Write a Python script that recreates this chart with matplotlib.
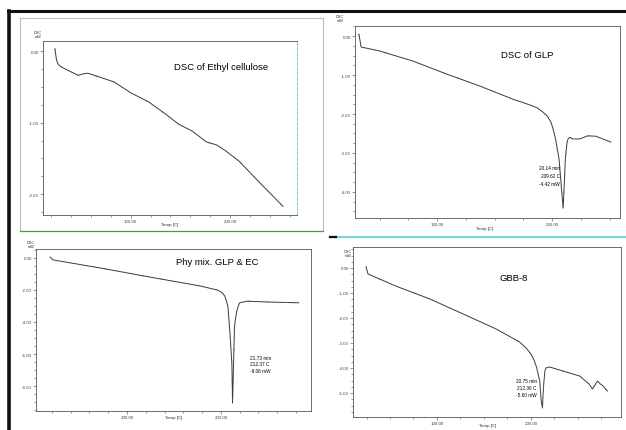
import matplotlib
matplotlib.use("Agg")
import matplotlib.pyplot as plt
from matplotlib.ticker import MultipleLocator, FormatStrFormatter

plt.rcParams['font.family'] = ['Liberation Sans', 'DejaVu Sans']
plt.rcParams['axes.unicode_minus'] = False

W, H = 626, 431

# Ethyl cellulose
ec_temp = [24, 25.5, 27, 29, 34, 47.5, 52, 57, 68, 83, 101, 118, 135, 148, 162, 176, 186,
           196, 209, 229, 253]
ec_dsc = [0.03, -0.12, -0.18, -0.21, -0.25, -0.34, -0.32, -0.31, -0.36, -0.43, -0.59, -0.71,
          -0.88, -1.02, -1.12, -1.27, -1.31, -1.40, -1.54, -1.83, -2.17]

# GLP
glp_temp = [32, 33, 34, 50, 79, 108, 137, 166, 181, 187, 192, 196, 199, 201, 203, 206, 208,
            209.6, 210.5, 211.5, 213, 214, 215.5, 218, 224, 231, 238, 251]
glp_dsc = [0.05, -0.1, -0.28, -0.38, -0.64, -0.97, -1.28, -1.62, -1.77, -1.84, -1.95, -2.06,
           -2.21, -2.4, -2.64, -3.15, -3.85, -4.42, -3.85, -3.15, -2.72, -2.63, -2.6, -2.64,
           -2.64, -2.56, -2.57, -2.72]

# Physical mixture GLP & EC
mix_temp = [18, 21, 71, 124, 178, 196, 200, 202, 204, 206, 207.5, 209.5, 211.7, 212.4, 213.5,
            214.5, 215.5, 217, 218.5, 220, 228, 249, 283]
mix_dsc = [0.06, -0.12, -0.62, -1.19, -1.75, -2.0, -2.12, -2.22, -2.37, -2.7, -3.06, -4.56,
           -6.6, -9.06, -6.6, -4.3, -3.8, -3.3, -3.0, -2.8, -2.7, -2.75, -2.8]

# GBB-8
gbb_temp = [24.5, 26.6, 56, 92.5, 128, 163, 188, 195, 200, 203, 206, 209.5, 211, 212.4, 213,
            214, 215, 216, 220, 234, 252, 262, 265.6, 271, 274, 277, 281.5]
gbb_dsc = [0.05, -0.24, -0.72, -1.24, -1.84, -2.44, -2.96, -3.2, -3.44, -3.65, -3.96, -4.52,
           -5.32, -5.6, -5.04, -4.5, -4.12, -4.0, -3.96, -4.12, -4.32, -4.64, -4.84, -4.52,
           -4.64, -4.72, -4.92]

fig = plt.figure(figsize=(W / 100, H / 100), dpi=100)
fig.patch.set_facecolor('white')

# background layer in pixel coordinates for frames and small labels
bg = fig.add_axes([0, 0, 1, 1])
bg.set_xlim(0, W)
bg.set_ylim(H, 0)
bg.axis('off')
bg.plot([8, W], [12, 12], color='#111111', lw=2.2)
bg.plot([9, 9], [12, H], color='#111111', lw=2.6)
bg.plot([20, 323, 323], [19, 19, 232], color='#bbbbbb', lw=0.8)
bg.plot([20, 20], [19, 232], color='#bbbbbb', lw=0.8)
bg.plot([20, 323], [232, 232], color='#4a9a4a', lw=0.9)
bg.plot([330, W], [238, 238], color='#7fd8d8', lw=1.6)
bg.plot([330, 336], [238, 238], color='#111111', lw=1.6)


def px_axes(x0, y0, x1, y1):
    return fig.add_axes([x0 / W, 1 - y1 / H, (x1 - x0) / W, (y1 - y0) / H])


def style(ax, xlim, ylim, ystep, xminor, yminor):
    ax.set_xlim(*xlim)
    ax.set_ylim(*ylim)
    ax.xaxis.set_major_locator(MultipleLocator(100))
    ax.xaxis.set_minor_locator(MultipleLocator(xminor))
    ax.yaxis.set_major_locator(MultipleLocator(ystep))
    ax.yaxis.set_minor_locator(MultipleLocator(yminor))
    ax.xaxis.set_major_formatter(FormatStrFormatter('%.2f'))
    ax.yaxis.set_major_formatter(FormatStrFormatter('%.2f'))
    ax.tick_params(which='both', labelsize=3.2, pad=0.8, width=0.4, colors='#444444')
    ax.tick_params(which='major', length=2)
    ax.tick_params(which='minor', length=1.2)
    for s in ax.spines.values():
        s.set_linewidth(0.6)
        s.set_color('#555555')


def curve(ax, t, d):
    ax.plot(t, d, color='#3a3a3a', lw=0.7)
    ax.plot(t, d, color='#e03030', lw=0.7, dashes=(1.5, 18))


# panel 1
ax1 = px_axes(43, 42, 297, 216)
curve(ax1, ec_temp, ec_dsc)
style(ax1, (12, 267), (-2.29, 0.14), 1, 20, 0.25)
ax1.spines['right'].set_color('#55d0d0')
ax1.spines['right'].set_linestyle((0, (4, 2)))
ax1.text(0.70, 0.856, 'DSC of Ethyl cellulose', transform=ax1.transAxes,
         ha='center', va='center', fontsize=6.8)

# panel 2
ax2 = px_axes(355, 27, 620, 219)
curve(ax2, glp_temp, glp_dsc)
style(ax2, (28.7, 259), (-4.67, 0.26), 1, 25, 0.25)
ax2.text(0.65, 0.854, 'DSC of GLP', transform=ax2.transAxes,
         ha='center', va='center', fontsize=6.8)
for yy, s in zip([-3.38, -3.59, -3.79], ['20.14 min', '209.62 C', '-4.42 mW']):
    ax2.text(207, yy, s, ha='right', va='center', fontsize=3.4)

# panel 3
ax3 = px_axes(36, 250, 311, 412)
curve(ax3, mix_temp, mix_dsc)
style(ax3, (3, 296), (-9.56, 0.56), 2, 20, 0.5)
ax3.text(0.66, 0.92, 'Phy mix. GLP & EC', transform=ax3.transAxes,
         ha='center', va='center', fontsize=6.8)
for yy, s in zip([-6.19, -6.6, -7.0], ['21.73 min', '212.37 C', '-9.06 mW']):
    ax3.text(231, yy, s, ha='left', va='center', fontsize=3.4)

# panel 4
ax4 = px_axes(353, 248, 621, 418)
curve(ax4, gbb_temp, gbb_dsc)
style(ax4, (10.6, 296), (-5.96, 0.84), 1, 25, 0.25)
ax4.text(0.60, 0.82, 'GBB-8', transform=ax4.transAxes,
         ha='center', va='center', fontsize=6.8)
for yy, s in zip([-4.52, -4.8, -5.08], ['20.75 min', '212.36 C', '-5.60 mW']):
    ax4.text(206.4, yy, s, ha='right', va='center', fontsize=3.4)

# small axis captions
for x, y in [(38, 35), (340, 19), (31, 245), (348, 254)]:
    bg.text(x, y, 'DSC\nmW', ha='center', va='center', fontsize=2.8,
            linespacing=1.0, color='#333333')
for x, y in [(170, 225), (485, 229), (174, 418), (488, 426)]:
    bg.text(x, y, 'Temp [C]', ha='center', va='center', fontsize=3.2, color='#333333')

fig.savefig('out.png', dpi=100)
